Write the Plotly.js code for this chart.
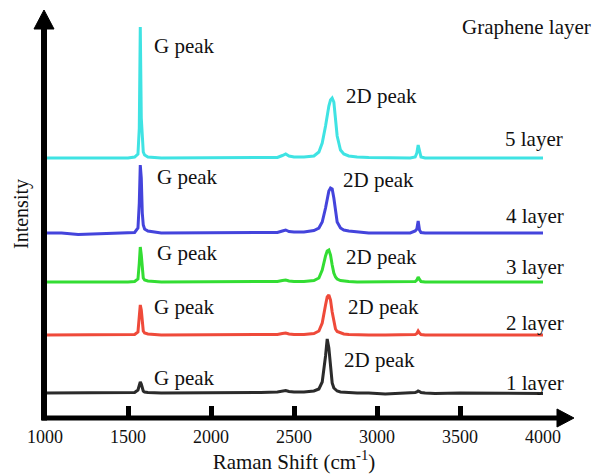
<!DOCTYPE html>
<html>
<head>
<meta charset="utf-8">
<script src="https://cdn.plot.ly/plotly-3.0.1.min.js"></script>
<style>html,body{margin:0;padding:0;background:#fff;}#chart{width:596px;height:475px;}</style>
</head>
<body>
<div id="chart"></div>
<script>
// Raman shift grid (cm^-1)
const ramanShift = [1000,1100,1200,1300,1400,1500,1540,1560,1568,1574,1580,1586,1592,1600,1620,1700,1800,1900,2000,2100,2200,2300,2400,2430,2450,2470,2500,2560,2620,2650,2670,2690,2700,2710,2720,2730,2740,2750,2760,2780,2800,2830,2880,2950,3050,3150,3200,3230,3240,3248,3256,3265,3290,3350,3500,3700,3900,4000];

// Intensities (arbitrary units, stacked with offsets as in the figure)
const layer1 = [25,25,25,25.5,25,25,25.5,28,33,36,34,29,27,26,25.5,25,25,25,25,25,25,25.5,26,27,27.5,26.5,26,26,27,29,36,62,79,70,48,35,30,28,27,26,26,25.5,25,25,24,24.5,25,25.5,26,27,26.5,25.5,25,24.5,25,24.5,24.5,24.5];
const layer2 = [83,83,83,83,83,83,83.5,86,100,113,108,92,87,85,84,83,83,83,83,83,83,83,83.5,84.5,85,84,83.5,83.5,84.5,87,95,113,121,123,118,106,95,89,86.5,85,84,83.5,83,83,83,83,83,83.5,84.5,87,85,83.5,83,83,83,83,83,83];
const layer3 = [136,136,135.5,136,136,136,136.5,139,155,171,163,145,140,138,137,136,136,136,136,136,136,136,136.5,137.5,138,137,136.5,136.5,137.5,140,148,162,167,168,163,153,145,141,139,137.5,137,136.5,136,136,136,136,136,136.5,138,141,138.5,136.5,136,136,136,136,136,136];
const layer4 = [185,185,183.5,184,185,185,185.5,190,215,253,240,205,193,189,187,185,185,185,185,185,185,185,185.5,187,188,186.5,186,186,187.5,190,196,210,220,227,230,229,220,206,196,190,188,187,186,185,185,185,185,187,189,197,188,185.5,185,185,185,185,185,185];
const layer5 = [260,260,260,260,260,260,261,264,290,391,300,275,266,263,261,260,260,260,260,260,260,260,260.5,262.5,264,262,261,261,262,266,275,292,303,312,318,320,316,300,282,268,264,262,261,260.5,260,260,260,261,265,273,266,261,260,260,260,260,260,260];

const seriesNames = ["1 layer","2 layer","3 layer","4 layer","5 layer"];
const seriesColors = ["#2b2b2b","#ef4a3a","#33dd33","#4444dc","#3fe3e3"];
const seriesData = [layer1, layer2, layer3, layer4, layer5];

const xTicks = [1000,1500,2000,2500,3000,3500,4000];

const font = "Liberation Serif";

const traces = seriesData.map((y,i)=>({
  x: ramanShift, y: y, type: "scatter", mode: "lines", name: seriesNames[i],
  line: {color: seriesColors[i], width: 3, shape: "linear"}, hoverinfo: "skip"
}));

function lab(text, x, y){
  return {text: text, x: x, y: y, xref: "x", yref: "y", xanchor: "left", yanchor: "middle",
          showarrow: false, font: {family: font, size: 21, color: "#111"}};
}

const annotations = [
  lab("G peak",1645,372), lab("2D peak",2800,322), lab("5 layer",3760,279),
  lab("G peak",1663,241), lab("2D peak",2782,238), lab("4 layer",3766,202),
  lab("G peak",1663,165), lab("2D peak",2800,161), lab("3 layer",3766,151),
  lab("G peak",1645,111), lab("2D peak",2812,111), lab("2 layer",3766,95),
  lab("G peak",1645,40),  lab("2D peak",2788,58),  lab("1 layer",3766,35),
  lab("Graphene layer",3500,391)
];

const shapes = [
  {type:"line", xref:"paper", yref:"paper", x0:-0.002, x1:-0.002, y0:-0.006, y1:0.955, line:{color:"#000", width:6}},
  {type:"path", xref:"paper", yref:"paper", path:"M -0.0221 0.9534 L 0.0181 0.9534 L -0.002 1.0 Z", fillcolor:"#000", line:{color:"#000", width:1}},
  {type:"line", xref:"paper", yref:"paper", x0:-0.006, x1:1.033, y0:0, y1:0, line:{color:"#000", width:5}},
  {type:"path", xref:"paper", yref:"paper", path:"M 1.0281 0.0221 L 1.0281 -0.0221 L 1.0622 0 Z", fillcolor:"#000", line:{color:"#000", width:1}}
];

const layout = {
  width: 596, height: 475,
  margin: {l: 45, r: 53, t: 10, b: 57},
  paper_bgcolor: "#fff", plot_bgcolor: "#fff",
  showlegend: false,
  font: {family: font, color: "#111"},
  xaxis: {
    range: [1000, 4000], tickvals: xTicks, ticktext: xTicks.map(String),
    ticks: "inside", ticklen: 12, tickwidth: 5, tickcolor: "#000",
    showline: false, showgrid: false, zeroline: false,
    tickfont: {family: font, size: 18, color: "#111"},
    ticklabelstandoff: 6,
    title: {text: "Raman Shift (cm<sup>-1</sup>)", font: {family: font, size: 21, color: "#111"}, standoff: 2}
  },
  yaxis: {
    range: [0, 408], showticklabels: false, ticks: "", showline: false, showgrid: false, zeroline: false,
    title: {text: "Intensity", font: {family: font, size: 20, color: "#111"}, standoff: 10}
  },
  annotations: annotations,
  shapes: shapes
};

Plotly.newPlot("chart", traces, layout, {displayModeBar: false, staticPlot: true});
</script>
</body>
</html>
